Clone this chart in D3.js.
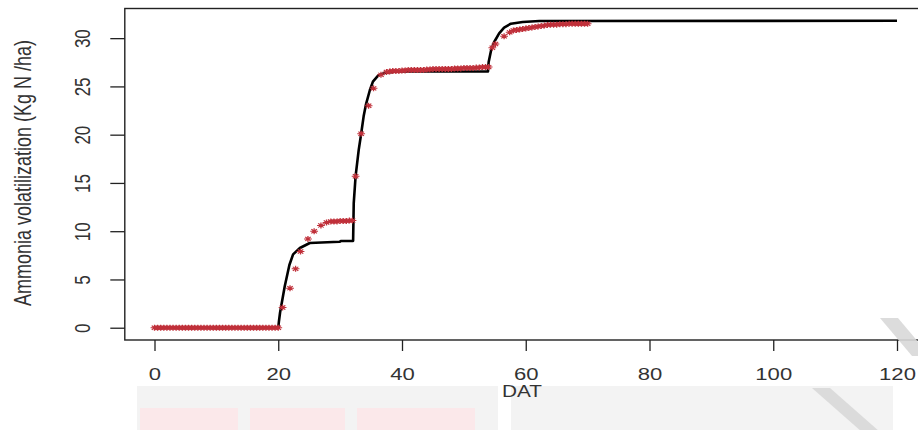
<!DOCTYPE html>
<html>
<head>
<meta charset="utf-8">
<script src="https://cdn.jsdelivr.net/npm/d3@7"></script>
<style>
  html, body { margin: 0; padding: 0; background: #fff; }
  svg { display: block; font-family: "Liberation Sans", Arial, sans-serif; }
</style>
</head>
<body>
<div id="chart"></div>
<script>
// observed ammonia volatilization (red asterisks)
const obsDay = [
  0, 0.5, 1, 1.5, 2, 2.5, 3, 3.5, 4, 4.5, 5, 5.5, 6, 6.5, 7, 7.5, 8, 8.5, 9, 9.5,
  10, 10.5, 11, 11.5, 12, 12.5, 13, 13.5, 14, 14.5, 15, 15.5, 16, 16.5, 17, 17.5, 18, 18.5, 19, 19.5, 20,
  20.7, 21.9, 22.8, 23.6, 24.8, 25.8, 26.9, 27.8, 28.5, 29, 29.5, 30, 30.5, 31, 31.5, 32,
  32.5, 33.4, 34.6, 35.4, 36.6, 37.5, 38, 38.5, 39, 39.5, 40, 40.5, 41, 41.5, 42, 42.5, 43, 43.5,
  44, 44.5, 45, 45.5, 46, 46.5, 47, 47.5, 48, 48.5, 49, 49.5, 50, 50.5, 51, 51.5, 52, 52.5, 53, 53.5, 54,
  54.6, 55.1, 56.5, 57.4, 58, 58.5, 59, 59.5, 60, 60.5, 61, 61.5, 62, 62.5, 63, 63.5, 64, 64.5,
  65, 65.5, 66, 66.5, 67, 67.5, 68, 68.5, 69, 69.5, 70
];
const obsN = [
  0, 0, 0, 0, 0, 0, 0, 0, 0, 0, 0, 0, 0, 0, 0, 0, 0, 0, 0, 0,
  0, 0, 0, 0, 0, 0, 0, 0, 0, 0, 0, 0, 0, 0, 0, 0, 0, 0, 0, 0, 0,
  2.1, 4.1, 6.1, 7.9, 9.2, 10.0, 10.6, 10.9, 11.0, 11.0, 11.0, 11.05, 11.05, 11.05, 11.1, 11.1,
  15.7, 20.1, 23.0, 24.8, 26.2, 26.5, 26.55, 26.6, 26.6, 26.6, 26.65, 26.65, 26.7, 26.7, 26.7, 26.7, 26.7, 26.7,
  26.75, 26.75, 26.8, 26.8, 26.8, 26.8, 26.8, 26.8, 26.8, 26.85, 26.85, 26.85, 26.9, 26.9, 26.9, 26.9, 26.95, 26.95, 27.0, 27.0, 27.0,
  29.0, 29.4, 30.2, 30.6, 30.8, 30.85, 30.9, 30.95, 31.0, 31.05, 31.1, 31.15, 31.2, 31.25, 31.3, 31.35, 31.4, 31.4,
  31.4, 31.45, 31.45, 31.45, 31.5, 31.5, 31.5, 31.5, 31.5, 31.5, 31.5
];

// simulated ammonia volatilization (black line)
const modelDay = [0, 20, 20.1, 20.3, 21.05, 21.8, 22.4, 23.5, 25.1, 28.9, 29.9, 30.1, 32.1,
  32.2, 32.5, 33.0, 33.4, 33.8, 34.2, 34.8, 35.3, 36.1, 37.2, 39.1, 53.9,
  54.0, 54.4, 54.9, 55.7, 56.5, 57.6, 59.5, 62.2, 120];
const modelN = [0, 0, 0.6, 1.6, 4.3, 6.5, 7.6, 8.26, 8.78, 8.88, 8.9, 8.98, 9.0,
  12.9, 15.7, 18.4, 20.1, 21.9, 23.2, 24.6, 25.5, 26.1, 26.4, 26.55, 26.55,
  27.5, 28.75, 29.6, 30.5, 31.1, 31.5, 31.67, 31.78, 31.8];

const xTicks = [0, 20, 40, 60, 80, 100, 120];
const yTicks = [0, 5, 10, 15, 20, 25, 30];

const width = 918, height = 430;
const sx = 1.3; // horizontal stretch of the original picture

const svg = d3.select("#chart").append("svg")
  .attr("width", width)
  .attr("height", height);

// faint background boxes behind the x title
const bg = svg.append("g");
bg.append("rect").attr("x", 137).attr("y", 386).attr("width", 361).attr("height", 44).attr("fill", "#f3f3f3");
bg.append("rect").attr("x", 511).attr("y", 386).attr("width", 382).attr("height", 44).attr("fill", "#f3f3f3");
[[140, 98], [250, 95], [357, 118]].forEach(r => {
  bg.append("rect").attr("x", r[0]).attr("y", 408).attr("width", r[1]).attr("height", 22).attr("fill", "#fbe8ea");
});

const x = d3.scaleLinear().domain([-4.8, 124.8]).range([124.8, 926.7]);
const y = d3.scaleLinear().domain([-1.272, 33.072]).range([340, 8.5]);

// plot box
svg.append("rect")
  .attr("x", x(-4.8)).attr("y", y(33.072))
  .attr("width", x(124.8) - x(-4.8)).attr("height", y(-1.272) - y(33.072))
  .attr("fill", "none").attr("stroke", "#222").attr("stroke-width", 1.4);

// x axis
const gx = svg.append("g")
  .attr("transform", `translate(0,${y(-1.272)})`)
  .call(d3.axisBottom(x).tickValues(xTicks).tickSize(11).tickPadding(0).tickFormat(d3.format("d")));
gx.select(".domain").remove();
gx.selectAll(".tick line").attr("stroke", "#222").attr("stroke-width", 1.3);
gx.selectAll(".tick text")
  .attr("y", 34).attr("dy", "0.35em")
  .attr("transform", `scale(${sx},1)`)
  .attr("font-size", 17).attr("fill", "#333")
  .attr("font-family", "Liberation Sans, Arial, sans-serif");

// y axis
const gy = svg.append("g")
  .attr("transform", `translate(${x(-4.8)},0)`)
  .call(d3.axisLeft(y).tickValues(yTicks).tickSize(14.5).tickFormat(d3.format("d")));
gy.select(".domain").remove();
gy.selectAll(".tick line").attr("stroke", "#222").attr("stroke-width", 1.3);
gy.selectAll(".tick text")
  .attr("x", 0).attr("y", 0).attr("dy", "0.35em")
  .attr("text-anchor", "middle")
  .attr("transform", `translate(-42.5,0) scale(${sx},1) rotate(-90)`)
  .attr("font-size", 17).attr("fill", "#333")
  .attr("font-family", "Liberation Sans, Arial, sans-serif");

// axis titles
svg.append("text")
  .attr("text-anchor", "middle")
  .attr("transform", `translate(31,173) scale(${sx},1) rotate(-90)`)
  .attr("font-size", 18).attr("fill", "#333")
  .text("Ammonia volatilization (Kg N /ha)");

svg.append("text")
  .attr("text-anchor", "middle")
  .attr("transform", `translate(522,397) scale(${sx},1)`)
  .attr("font-size", 16).attr("fill", "#333")
  .text("DAT");

// simulated line
const model = modelDay.map((d, i) => ({ day: d, n: modelN[i] }));
svg.append("path")
  .datum(model)
  .attr("fill", "none")
  .attr("stroke", "#000")
  .attr("stroke-width", 2.6)
  .attr("stroke-linejoin", "round")
  .attr("d", d3.line().x(d => x(d.day)).y(d => y(d.n)));

// observed asterisks (pch 8)
const r = 3;
const star = `M${-r},0H${r}M0,${-r}V${r}M${-r * 0.7},${-r * 0.7}L${r * 0.7},${r * 0.7}M${-r * 0.7},${r * 0.7}L${r * 0.7},${-r * 0.7}`;
const obs = obsDay.map((d, i) => ({ day: d, n: obsN[i] }));
svg.append("g")
  .selectAll("path")
  .data(obs)
  .join("path")
  .attr("transform", d => `translate(${x(d.day)},${y(d.n)}) scale(${sx},1)`)
  .attr("d", star)
  .attr("fill", "none")
  .attr("stroke", "#c0303a")
  .attr("stroke-width", 1);

// faint diagonal stripes at the lower right
const fg = svg.append("g").attr("fill", "#d9d9d9").attr("opacity", 0.9);
fg.append("polygon").attr("points", "880,318 898,318 930,356 912,356");
fg.append("polygon").attr("points", "812,388 830,388 880,432 862,432");
</script>
</body>
</html>
